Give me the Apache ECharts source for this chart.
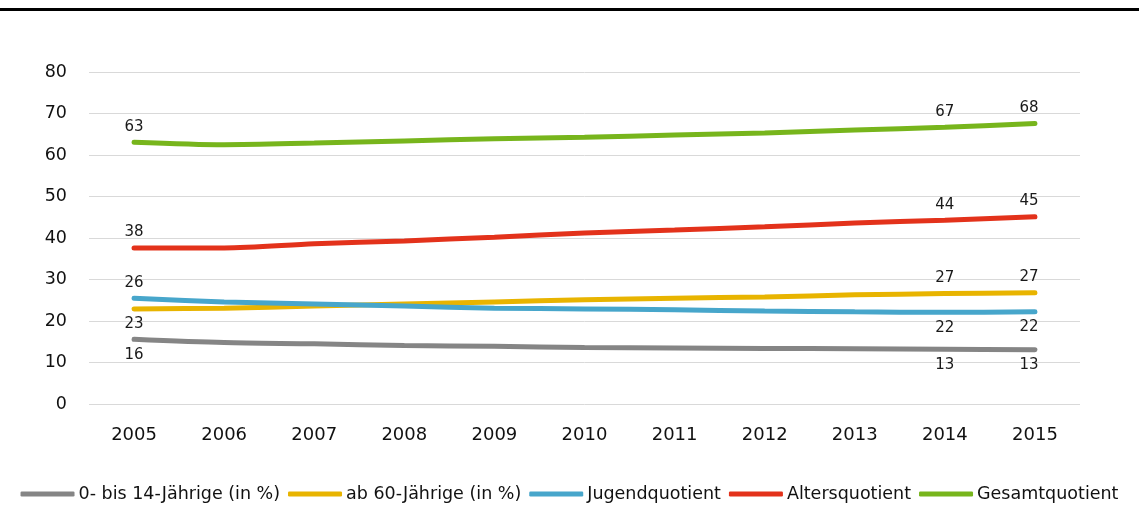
<!DOCTYPE html>
<html>
<head>
<meta charset="utf-8">
<script src="https://cdn.jsdelivr.net/npm/echarts@6/dist/echarts.min.js"></script>
<style>
  html, body { margin: 0; padding: 0; background: #fff; }
  #chart { width: 1139px; height: 507px; }
</style>
</head>
<body>
<div id="chart"></div>
<script>
// Jahre (Kategorien)
const years = ['2005', '2006', '2007', '2008', '2009', '2010', '2011', '2012', '2013', '2014', '2015'];

// Werte je Reihe
const kinder   = [15.6, 14.8, 14.5, 14.1, 13.9, 13.6, 13.5, 13.4, 13.3, 13.2, 13.1];
const senioren = [22.9, 23.1, 23.6, 24.1, 24.6, 25.1, 25.5, 25.8, 26.3, 26.6, 26.8];
const jugendQ  = [25.5, 24.6, 24.1, 23.6, 23.1, 22.9, 22.7, 22.4, 22.2, 22.1, 22.2];
const altersQ  = [37.6, 37.6, 38.6, 39.3, 40.2, 41.2, 41.9, 42.7, 43.6, 44.3, 45.1];
const gesamtQ  = [63.1, 62.5, 62.9, 63.4, 63.9, 64.3, 64.8, 65.3, 66.0, 66.7, 67.6];

// Achsenbeschriftung
const yTicks = [0, 10, 20, 30, 40, 50, 60, 70, 80];

const seriesNames = ['0- bis 14-Jährige (in %)', 'ab 60-Jährige (in %)', 'Jugendquotient', 'Altersquotient', 'Gesamtquotient'];
const colors = ['#858585', '#e8b400', '#47a6cb', '#e3321b', '#77b51c'];

// Indizes der beschrifteten Punkte und deren Position
const labelled = [0, 9, 10];
const labelPos = [
  ['bottom', 'bottom', 'bottom'],
  ['bottom', 'top', 'top'],
  ['top', 'bottom', 'bottom'],
  ['top', 'top', 'top'],
  ['top', 'top', 'top']
];

const FONT = 'DejaVu Sans';

function buildData(values, si) {
  return values.map((v, i) => {
    const k = labelled.indexOf(i);
    if (k < 0) return v;
    return {
      value: v,
      label: {
        show: true,
        position: labelPos[si][k],
        distance: 8,
        offset: [i === values.length - 1 ? -6 : 0, 0],
        formatter: p => Math.round(p.value),
        fontFamily: FONT,
        fontSize: 15,
        color: '#1a1a1a'
      }
    };
  });
}

const allValues = [kinder, senioren, jugendQ, altersQ, gesamtQ];

const chart = echarts.init(document.getElementById('chart'), null, { renderer: 'canvas' });
chart.setOption({
  animation: false,
  color: colors,
  graphic: [{
    type: 'rect',
    shape: { x: 0, y: 8, width: 1139, height: 3 },
    style: { fill: '#000' }
  }],
  grid: { left: 89, right: 59, top: 72, bottom: 103 },
  legend: {
    left: 'center',
    bottom: 4,
    padding: 0,
    itemWidth: 54,
    itemHeight: 5,
    itemGap: 8,
    icon: 'roundRect',
    textStyle: { fontFamily: FONT, fontSize: 17.5, color: '#111', padding: [0, 0, 0, -1] },
    data: seriesNames
  },
  xAxis: {
    type: 'category',
    data: years,
    boundaryGap: true,
    axisLine: { show: false },
    axisTick: { show: false },
    axisLabel: { fontFamily: FONT, fontSize: 18, color: '#111', margin: 22 }
  },
  yAxis: {
    type: 'value',
    min: yTicks[0],
    max: yTicks[yTicks.length - 1],
    interval: 10,
    axisLine: { show: false },
    axisTick: { show: false },
    axisLabel: { fontFamily: FONT, fontSize: 17.5, color: '#111', margin: 22 },
    splitLine: { lineStyle: { color: '#d9d9d9', width: 1 } }
  },
  series: allValues.map((vals, si) => ({
    name: seriesNames[si],
    type: 'line',
    data: buildData(vals, si),
    smooth: 0.3,
    symbol: 'circle',
    symbolSize: 0,
    showSymbol: true,
    lineStyle: { width: 5, cap: 'round', color: colors[si] },
    itemStyle: { color: colors[si] }
  }))
});
</script>
</body>
</html>
